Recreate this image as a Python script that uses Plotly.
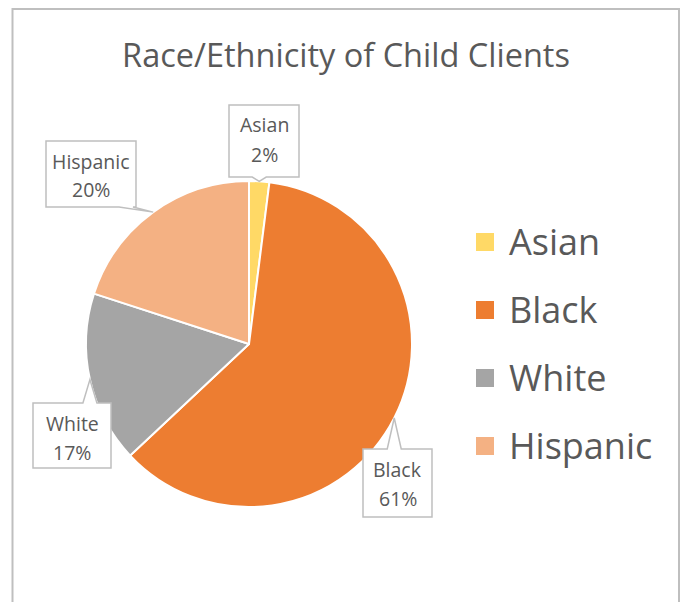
import math
import plotly.graph_objects as go

# Data
categories = ["Asian", "Black", "White", "Hispanic"]
shares = [2, 61, 17, 20]
colors = ["#FFD966", "#ED7D31", "#A5A5A5", "#F4B183"]
title_text = "Race/Ethnicity of Child Clients"

# Canvas and pie geometry (pixels)
W, H = 682, 602
CX, CY, R = 249, 344, 163
TEXT_COLOR = "#595959"
FRAME_COLOR = "#BFBFBF"
FONT = "Open Sans"

# Callout box placement for each category (pixels: x0, y0, x1, y1)
callout_boxes = {
    "Asian": (229, 105, 299, 177),
    "Black": (363, 449, 432, 517),
    "White": (33, 403, 111, 468),
    "Hispanic": (46, 141, 136, 207),
}


def px(x):
    return x / W


def py(y):
    return 1 - y / H


fig = go.Figure(
    go.Pie(
        labels=categories,
        values=shares,
        sort=False,
        direction="clockwise",
        rotation=0,
        marker=dict(colors=colors, line=dict(color="white", width=2)),
        textinfo="none",
        showlegend=False,
        domain=dict(x=[px(CX - R), px(CX + R)], y=[py(CY + R), py(CY - R)]),
    )
)

shapes = []
annotations = []

# Outer chart frame (open at the bottom edge of the canvas)
shapes.append(dict(
    type="rect", xref="paper", yref="paper",
    x0=px(12.5), x1=px(679), y0=-0.05, y1=py(9),
    line=dict(color=FRAME_COLOR, width=2), fillcolor="rgba(0,0,0,0)",
    layer="below",
))


def callout_path(box, tip, base_w=14):
    x0, y0, x1, y1 = box
    tx, ty = tip
    bc = min(max(tx, x0 + base_w / 2 + 3), x1 - base_w / 2 - 3)
    b0, b1 = bc - base_w / 2, bc + base_w / 2
    if ty > y1:  # pointer below the box
        pts = [(x0, y0), (x1, y0), (x1, y1), (b1, y1), (tx, ty), (b0, y1), (x0, y1)]
    else:  # pointer above the box
        pts = [(x0, y0), (b0, y0), (tx, ty), (b1, y0), (x1, y0), (x1, y1), (x0, y1)]
    return "M " + " L ".join(f"{px(x):.5f},{py(y):.5f}" for x, y in pts) + " Z"


# Data callouts: pointer tip sits on the rim at each slice's mid-angle
total = sum(shares)
cum = 0.0
for cat, val in zip(categories, shares):
    mid = (cum + val / 2) / total * 2 * math.pi
    cum += val
    tip = (CX + R * math.sin(mid), CY - R * math.cos(mid))
    box = callout_boxes[cat]
    shapes.append(dict(
        type="path", xref="paper", yref="paper",
        path=callout_path(box, tip),
        fillcolor="white", line=dict(color=FRAME_COLOR, width=1.5),
        layer="above",
    ))
    bx = (box[0] + box[2]) / 2
    for txt, dy in ((cat, 20), (f"{val}%", 49)):
        annotations.append(dict(
            x=px(bx), y=py(box[1] + dy), xref="paper", yref="paper",
            text=txt, showarrow=False, xanchor="center", yanchor="middle",
            font=dict(family=FONT, size=19.5, color=TEXT_COLOR),
        ))

# Legend: square swatches with large labels
for i, (cat, col) in enumerate(zip(categories, colors)):
    yc = 242 + 68 * i
    shapes.append(dict(
        type="rect", xref="paper", yref="paper",
        x0=px(476), x1=px(494), y0=py(yc + 9), y1=py(yc - 9),
        fillcolor=col, line=dict(width=0),
    ))
    annotations.append(dict(
        x=px(507), y=py(yc - 1), xref="paper", yref="paper",
        text=cat, showarrow=False, xanchor="left", yanchor="middle",
        font=dict(family=FONT, size=36, color=TEXT_COLOR),
    ))

fig.update_layout(
    width=W, height=H,
    margin=dict(l=0, r=0, t=0, b=0),
    paper_bgcolor="white", plot_bgcolor="white",
    title=dict(
        text=title_text, x=px(346), y=py(56), xanchor="center", yanchor="middle",
        font=dict(family=FONT, size=32.5, color=TEXT_COLOR),
    ),
    shapes=shapes,
    annotations=annotations,
    showlegend=False,
)

fig.write_html("out.html")
